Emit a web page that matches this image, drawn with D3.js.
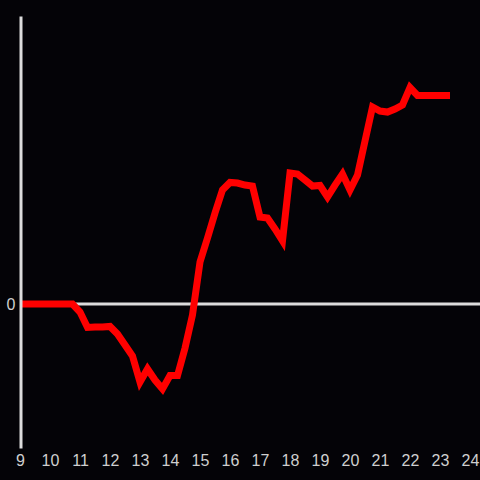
<!DOCTYPE html>
<html>
<head>
<meta charset="utf-8">
<script src="https://cdn.jsdelivr.net/npm/d3@7"></script>
<style>
  html, body { margin: 0; padding: 0; background: #040307; }
  #chart { width: 480px; height: 480px; }
</style>
</head>
<body>
<div id="chart"></div>
<script>
// 数据部分
const times = [
  '9:00', '9:15', '9:30', '9:45', '10:00', '10:15', '10:30', '10:45',
  '11:00', '11:15', '11:30', '11:45', '12:00', '12:15', '12:30', '12:45',
  '13:00', '13:15', '13:30', '13:45', '14:00', '14:15', '14:30', '14:45',
  '15:00', '15:15', '15:30', '15:45', '16:00', '16:15', '16:30', '16:45',
  '17:00', '17:15', '17:30', '17:45', '18:00', '18:15', '18:30', '18:45',
  '19:00', '19:15', '19:30', '19:45', '20:00', '20:15', '20:30', '20:45',
  '21:00', '21:15', '21:30', '21:45', '22:00', '22:15', '22:30', '22:45',
  '23:00', '23:20'
];
const values = [
  0, 0, 0, 0, 0, 0, 0, 0,
  -0.056, -0.163, -0.160, -0.160, -0.156, -0.208, -0.285, -0.361,
  -0.542, -0.451, -0.528, -0.590, -0.497, -0.497, -0.306, -0.076,
  0.292, 0.458, 0.632, 0.792, 0.844, 0.840, 0.826, 0.819,
  0.604, 0.597, 0.521, 0.438, 0.910, 0.903, 0.861, 0.819,
  0.823, 0.743, 0.826, 0.903, 0.792, 0.896, 1.132, 1.368,
  1.340, 1.333, 1.354, 1.382, 1.503, 1.448, 1.448, 1.448,
  1.448, 1.448
];
const xTicks = [9, 10, 11, 12, 13, 14, 15, 16, 17, 18, 19, 20, 21, 22, 23, 24];
const yTicks = [0];

const width = 480;
const height = 480;
const margin = { top: 16, right: 10, bottom: 32, left: 20 };

const toHour = t => {
  const [h, m] = t.split(':').map(Number);
  return h + m / 60;
};
const data = times.map((t, i) => ({ hour: toHour(t), value: values[i] }));

const svg = d3.select('#chart')
  .append('svg')
  .attr('width', width)
  .attr('height', height)
  .style('background-color', '#040307');

// 比例尺
const x = d3.scaleLinear()
  .domain([9, 24])
  .range([margin.left, width - margin.right]);
const y = d3.scaleLinear()
  .domain([-1, 2])
  .range([height - margin.bottom, margin.top]);

// 零线
svg.append('line')
  .attr('x1', margin.left)
  .attr('x2', width)
  .attr('y1', y(0))
  .attr('y2', y(0))
  .attr('stroke', '#dcdcdc')
  .attr('stroke-width', 3);

// 折线
const line = d3.line()
  .x(d => x(d.hour))
  .y(d => y(d.value));

svg.append('path')
  .datum(data)
  .attr('fill', 'none')
  .attr('stroke', '#ff0000')
  .attr('stroke-width', 7)
  .attr('d', line);

const labelFont = g => g.selectAll('text')
  .attr('fill', '#cfcfcf')
  .style('font-family', '"Liberation Sans", Arial, sans-serif')
  .style('font-size', '16px');

// x轴（只有标签）
svg.append('g')
  .attr('transform', `translate(0,${height - margin.bottom})`)
  .call(d3.axisBottom(x).tickValues(xTicks).tickSize(0).tickPadding(7).tickFormat(d3.format('d')))
  .call(g => g.select('.domain').remove())
  .call(labelFont);

// y轴
svg.append('g')
  .attr('transform', `translate(${margin.left + 0.5},0)`)
  .call(d3.axisLeft(y).tickValues(yTicks).tickSize(0).tickPadding(5).tickSizeOuter(0).tickFormat(d3.format('d')))
  .call(g => g.select('.domain')
    .attr('stroke', '#dcdcdc')
    .attr('stroke-width', 3))
  .call(labelFont);
</script>
</body>
</html>
